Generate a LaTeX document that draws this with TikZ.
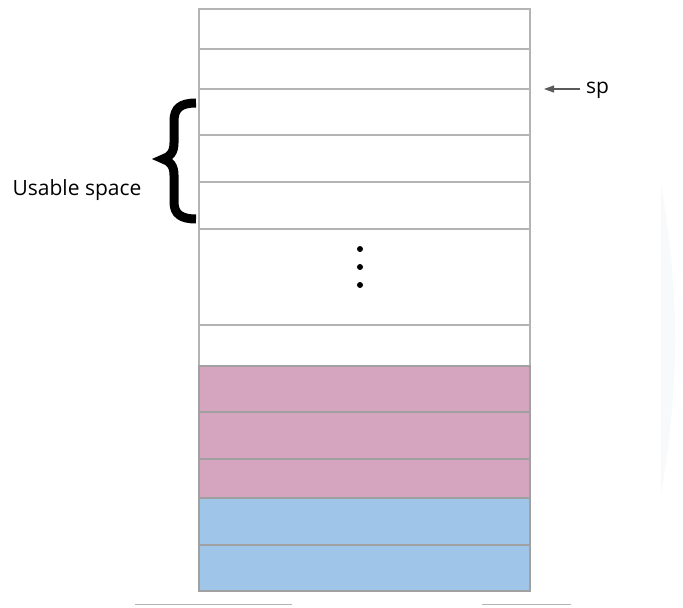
\documentclass[tikz,border=0pt]{standalone}
\usepackage{fontspec}
\setmainfont{Open Sans}
\usetikzlibrary{arrows.meta}
\definecolor{gridln}{HTML}{B4B4B4}
\definecolor{darkln}{HTML}{A0A0A0}
\definecolor{pinkc}{HTML}{D5A5BF}
\definecolor{bluec}{HTML}{9FC5E8}
\definecolor{arrowc}{HTML}{5A5A5A}
\definecolor{faintc}{HTML}{F7F9FB}
\tikzset{
  cell/.style={draw=gridln, line width=1.2pt},
  ccell/.style={draw=darkln, line width=1.2pt},
  lbl/.style={font=\fontsize{21}{25}\selectfont, text=black, inner sep=0pt},
}
\begin{document}
\begin{tikzpicture}[x=1pt,y=-1pt]
\useasboundingbox (0,0) rectangle (683,608);
% faint shape at right
\fill[faintc] (661,183) .. controls (680,300) and (680,380) .. (661,495) -- cycle;
% white cells
\foreach \a/\b in {9/49,49/89,89/135,135/182,182/229,229/325,325/366}
  \draw[cell, fill=white] (199,\a) rectangle (530,\b);
% pink cells
\foreach \a/\b in {366/412,412/459,459/498}
  \draw[ccell, fill=pinkc] (199,\a) rectangle (530,\b);
% blue cells
\foreach \a/\b in {498/545,545/591}
  \draw[ccell, fill=bluec] (199,\a) rectangle (530,\b);
% dots
\foreach \y in {249,267,285}
  \fill[black] (360,\y) circle (3);
% brace
\draw[black, line width=9pt, line cap=butt, line join=miter, miter limit=4]
  (196,103) .. controls (181,103) and (174,108) .. (174,121)
  -- (174,143) .. controls (174,152) and (170,157) .. (163,159)
  .. controls (170,161) and (174,166) .. (174,175)
  -- (174,202) .. controls (174,214) and (181,219) .. (196,219);
\node[lbl, anchor=center] (usable) at (77,190) {Usable space};
% sp pointer
\node[lbl, anchor=west] (sp) at (586,90) {sp};
\coordinate (sptip) at (544,89);
\draw[arrowc, line width=1.1pt, -{Triangle[length=10pt,width=7pt]}] (580,89) -- (sptip);
% bottom lines
\coordinate (l1a) at (135,604); \coordinate (l1b) at (292,604);
\coordinate (l2a) at (482,604); \coordinate (l2b) at (571,604);
\draw[gridln, line width=1pt] (l1a) -- (l1b);
\draw[gridln, line width=1pt] (l2a) -- (l2b);
\end{tikzpicture}
\end{document}
